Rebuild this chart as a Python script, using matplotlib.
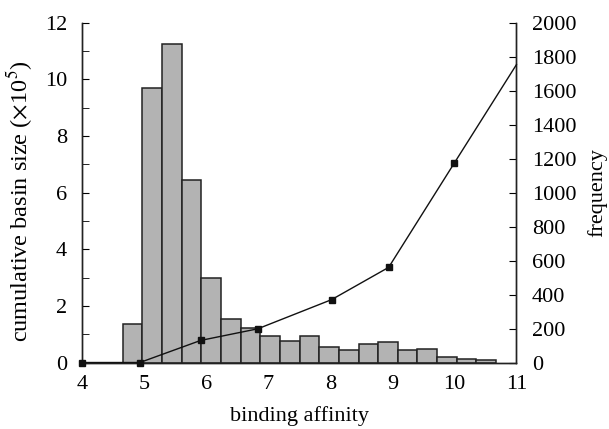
import matplotlib
matplotlib.use("Agg")
import matplotlib.pyplot as plt
import numpy as np

plt.rcParams['font.family'] = ['Liberation Serif', 'STIXGeneral', 'DejaVu Serif']
plt.rcParams['mathtext.fontset'] = 'stix'

# histogram (frequency, right axis)
bin_start = 4.65
bin_width = 0.317
freq = [227, 1618, 1873, 1073, 495, 259, 202, 155, 125, 155,
        90, 76, 106, 119, 76, 78, 35, 19, 12]

# cumulative basin size (x10^5, left axis)
aff = [4.0, 4.93, 5.91, 6.83, 8.02, 8.94, 10.0, 11.0]
basin = [0.0, 0.0, 0.78, 1.19, 2.22, 3.36, 7.05, 10.52]

fig = plt.figure(figsize=(6.09, 4.29), dpi=100)
ax = fig.add_axes([0.135, 0.155, 0.713, 0.792])
ax2 = ax.twinx()

left_edges = bin_start + bin_width * np.arange(len(freq))
ax2.bar(left_edges, freq, width=bin_width, align='edge', color='#b3b3b3',
        edgecolor='#222222', linewidth=1.1, zorder=2)
ax2.set_ylim(0, 2000)
ax2.set_yticks(range(0, 2001, 200))

ax.set_zorder(ax2.get_zorder() + 1)
ax.patch.set_visible(False)
ax.plot(aff, basin, color='#111111', linewidth=1.0, marker='s', markersize=4,
        markevery=list(range(len(aff) - 1)), clip_on=False, zorder=3)
ax.set_xlim(4, 11)
ax.set_ylim(0, 12)
ax.set_xticks(range(4, 12))
ax.set_yticks(range(0, 13, 2))
ax.set_yticks(range(1, 12, 2), minor=True)

for a in (ax, ax2):
    a.spines['top'].set_visible(False)
    for s in a.spines.values():
        s.set_linewidth(1.0)
        s.set_color('#222222')

ax.tick_params(axis='y', which='both', direction='in', length=5, labelsize=16, pad=11)
ax.tick_params(axis='x', length=0, labelsize=16, pad=9)
ax2.tick_params(axis='y', direction='in', length=5, labelsize=16, pad=11)

ax.set_xlabel('binding affinity', fontsize=16, labelpad=9)
ax.set_ylabel(r'cumulative basin size ($\times$10$^5$)', fontsize=17.5)
ax.yaxis.set_label_coords(-0.108, 0.475)
ax2.set_ylabel('frequency', fontsize=16, labelpad=8)

fig.savefig('out.png', dpi=100)
